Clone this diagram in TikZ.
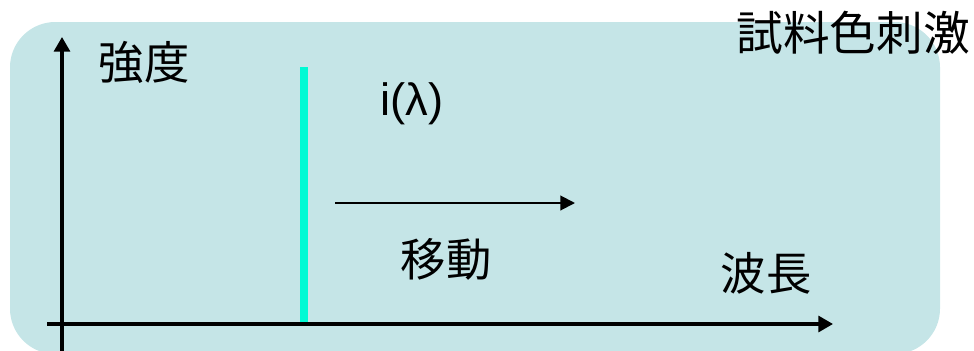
\documentclass[tikz,border=0pt]{standalone}
\usepackage{fontspec}
\setmainfont{Liberation Sans}
\newfontfamily\cjk{Noto Sans CJK JP}
\usepackage{tikz}
\usetikzlibrary{arrows.meta}

\definecolor{panel}{RGB}{197,229,231}
\definecolor{spectrum}{RGB}{0,250,212}

\tikzset{
  axisline/.style={line width=2.4pt, -{Triangle[length=11pt,width=12pt]}},
  movearrow/.style={line width=1.5pt, -{Triangle[length=11pt,width=11pt]}},
  jptext/.style={font=\cjk\fontsize{34}{40}\selectfont, inner sep=0pt},
}

\begin{document}
\begin{tikzpicture}[x=0.75pt, y=-0.75pt]

  \useasboundingbox (0,0) rectangle (974,350);
  \begin{scope}
    \clip (0,0) rectangle (974,350);
    \fill[panel, rounded corners=34pt] (10,22) rectangle (940,354);
  \end{scope}

  % axes
  \coordinate (yFoot) at (62,352);
  \coordinate (yTip)  at (62,37);
  \coordinate (xFoot) at (47,324);
  \coordinate (xTip)  at (833,324);
  \draw[axisline] (yFoot) -- (yTip);
  \draw[axisline] (xFoot) -- (xTip);

  % monochromatic line
  \coordinate (lineTop) at (304,67);
  \coordinate (lineBot) at (304,322);
  \draw[spectrum, line width=6pt] (lineBot) -- (lineTop);

  % shift arrow
  \coordinate (moveFrom) at (335,203);
  \coordinate (moveTo)   at (575,203);
  \draw[movearrow] (moveFrom) -- (moveTo);

  \node[jptext] (intensity) at (144,62)  {強度};
  \node[jptext, font=\cjk\fontsize{35}{40}\selectfont] (stimulus) at (853,33) {試料色刺激};
  \node[jptext, font=\fontsize{34}{40}\selectfont] (ilambda) at (412,104) {i(λ)};
  \node[jptext] (move)      at (446,259) {移動};
  \node[jptext] (wavelen)   at (766,273) {波長};

\end{tikzpicture}
\end{document}
